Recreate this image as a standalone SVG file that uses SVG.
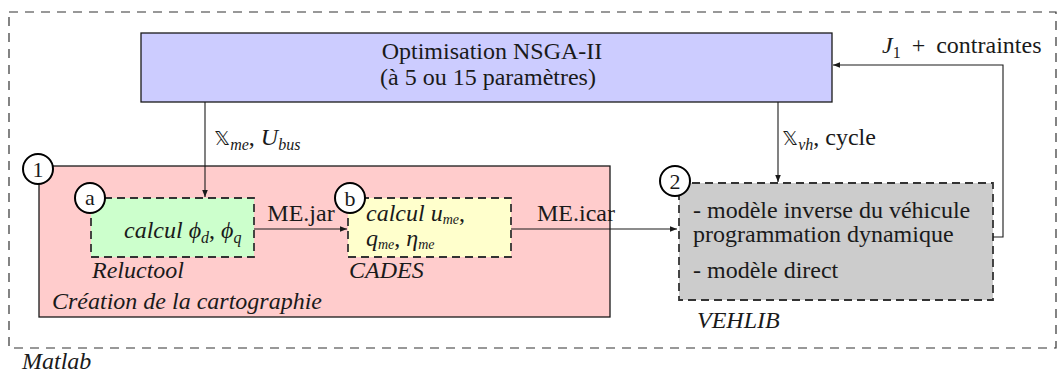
<svg xmlns="http://www.w3.org/2000/svg" width="1064" height="376" viewBox="0 0 1064 376" font-family="'Liberation Serif', 'DejaVu Serif', serif">
<defs>
<style>
text{font-family:'Liberation Serif','DejaVu Serif',serif;fill:#1a1a1a;font-size:24px}
.it{font-style:italic}
.sub{font-size:16px}
.dbl{font-family:'DejaVu Sans','DejaVu Serif',sans-serif;font-style:normal;font-size:20px}
.solid{stroke:#1a1a1a;stroke-width:1.3}
.dash{stroke:#333;stroke-width:1.8;stroke-dasharray:8 5}
.outer{fill:none;stroke:#333;stroke-width:1.2;stroke-dasharray:9 7}
.num{fill:#fff;stroke:#000;stroke-width:2}
.numt{font-size:22px;text-anchor:middle}
.conn{fill:none;stroke:#1a1a1a;stroke-width:1.1}
</style>
<marker id="ah" viewBox="0 0 10 10" refX="10" refY="5" markerWidth="7" markerHeight="7" markerUnits="userSpaceOnUse" orient="auto">
<path d="M0,1 L10,5 L0,9 Z" fill="#1a1a1a"/>
</marker>
</defs>

<g id="matlab">
<rect class="outer" x="9" y="12" width="1047" height="336"/>
<text class="it" x="22" y="369" font-size="22">Matlab</text>
</g>

<g id="nsga">
<rect class="solid" x="141" y="33" width="691" height="69" fill="#ccccff"/>
<text x="492" y="59" text-anchor="middle" font-size="24.5">Optimisation NSGA-II</text>
<text x="488" y="85" text-anchor="middle" font-size="23.5">(à 5 ou 15 paramètres)</text>
</g>

<g id="cartographie">
<rect class="solid" x="39" y="166" width="571" height="151" fill="#ffcccc"/>
<text class="it" x="52" y="309" font-size="23">Création de la cartographie</text>
<circle class="num" cx="38" cy="169" r="15"/>
<text class="numt" x="38" y="177">1</text>
</g>

<g id="reluctool">
<rect class="dash" x="91" y="198" width="163" height="59" fill="#ccffcc"/>
<text x="124" y="238"><tspan class="it">calcul ϕ</tspan><tspan class="it sub" dy="5">d</tspan><tspan dy="-5">, </tspan><tspan class="it">ϕ</tspan><tspan class="it sub" dy="5">q</tspan></text>
<text class="it" x="92" y="278" font-size="23">Reluctool</text>
<circle class="num" cx="90" cy="198" r="15"/>
<text class="numt" x="90" y="205">a</text>
</g>

<g id="cades">
<rect class="dash" x="348" y="198" width="163" height="59" fill="#ffffcc"/>
<text x="366" y="221" font-size="21"><tspan class="it">calcul u</tspan><tspan class="it" font-size="14" dy="3">me</tspan><tspan dy="-3">,</tspan></text>
<text x="366" y="246" font-size="21"><tspan class="it">q</tspan><tspan class="it" font-size="14" dy="3">me</tspan><tspan dy="-3">, </tspan><tspan class="it">η</tspan><tspan class="it" font-size="14" dy="3">me</tspan></text>
<text class="it" x="349" y="278" font-size="23">CADES</text>
<circle class="num" cx="350" cy="198" r="15"/>
<text class="numt" x="350" y="206">b</text>
</g>

<g id="vehlib">
<rect class="dash" x="679" y="183" width="314" height="117" fill="#cccccc"/>
<text x="693" y="218" font-size="24.5">- modèle inverse du véhicule</text>
<text x="693" y="242" font-size="24.5">programmation dynamique</text>
<text x="693" y="278" font-size="24.5">- modèle direct</text>
<text class="it" x="697" y="328" font-size="23">VEHLIB</text>
<circle class="num" cx="675" cy="181" r="15"/>
<text class="numt" x="675" y="189">2</text>
</g>

<g id="connectors">
<line class="conn" x1="205" y1="102" x2="205" y2="197" marker-end="url(#ah)"/>
<text x="214" y="145"><tspan class="dbl">𝕏</tspan><tspan class="it sub" dy="5">me</tspan><tspan dy="-5">, </tspan><tspan class="it">U</tspan><tspan class="it sub" dy="5">bus</tspan></text>
<line class="conn" x1="778" y1="102" x2="778" y2="182" marker-end="url(#ah)"/>
<text x="782" y="145"><tspan class="dbl">𝕏</tspan><tspan class="it sub" dy="5">vh</tspan><tspan dy="-5">, cycle</tspan></text>
<line class="conn" x1="254" y1="229" x2="347" y2="229" marker-end="url(#ah)"/>
<text x="301" y="221" text-anchor="middle" font-size="22">ME.jar</text>
<line class="conn" x1="511" y1="229" x2="677" y2="229" marker-end="url(#ah)"/>
<text x="537" y="221" font-size="22">ME.icar</text>
<polyline class="conn" points="993,237 1003,237 1003,65 833,65" marker-end="url(#ah)"/>
<text x="882" y="53" word-spacing="5"><tspan class="it">J</tspan><tspan class="sub" dy="5">1</tspan><tspan dy="-5"> + contraintes</tspan></text>
</g>
</svg>
